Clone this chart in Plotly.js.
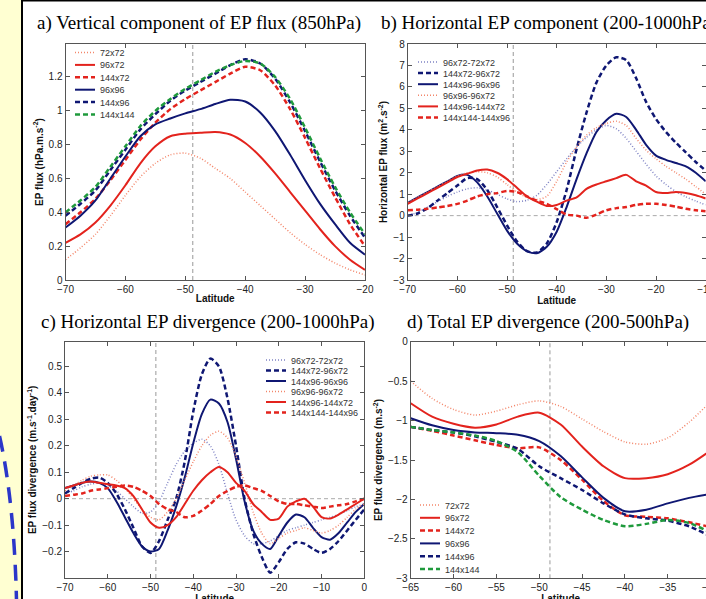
<!DOCTYPE html>
<html><head><meta charset="utf-8">
<script src="https://cdn.plot.ly/plotly-3.0.1.min.js"></script>
<style>html,body{margin:0;padding:0;overflow:hidden;background:#fff}</style>
</head><body><div id="chart" style="width:720px;height:625px"></div>
<script>
// ---------------- data ----------------
const REF_LAT = -48.75;

const LAT_A = [-70,-67.5,-65,-62.5,-60,-57.5,-55,-52.5,-50,-47.5,-45,-42.5,-40,-37.5,-35,-32.5,-30,-27.5,-25,-22.5,-20];
const A_72x72   = [0.12,0.19,0.27,0.38,0.50,0.61,0.69,0.74,0.75,0.72,0.66,0.60,0.52,0.44,0.36,0.28,0.21,0.15,0.10,0.06,0.03];
const A_96x72   = [0.22,0.27,0.34,0.44,0.56,0.69,0.79,0.85,0.865,0.87,0.875,0.86,0.81,0.73,0.63,0.52,0.41,0.30,0.20,0.12,0.06];
const A_144x72  = [0.33,0.40,0.48,0.59,0.71,0.83,0.93,1.01,1.07,1.12,1.17,1.22,1.26,1.24,1.15,1.01,0.84,0.66,0.49,0.33,0.20];
const A_96x96   = [0.31,0.38,0.47,0.60,0.73,0.85,0.92,0.955,0.985,1.01,1.04,1.065,1.055,0.99,0.88,0.74,0.59,0.45,0.33,0.22,0.15];
const A_144x96  = [0.38,0.45,0.53,0.65,0.77,0.89,0.98,1.06,1.12,1.17,1.22,1.27,1.305,1.28,1.19,1.05,0.88,0.70,0.53,0.38,0.25];
const A_144x144 = [0.40,0.47,0.55,0.67,0.79,0.91,1.00,1.07,1.13,1.18,1.23,1.27,1.295,1.28,1.20,1.07,0.90,0.72,0.55,0.40,0.27];

const LAT_B = [-70,-68,-66,-64,-62,-60,-58,-56,-54,-52,-50,-48,-46,-44,-42,-40,-38,-36,-34,-32,-30,-28,-26,-24,-22,-20,-18,-16,-14,-12,-10];
const B_96x72_72x72    = [0.0,0.15,0.4,0.65,0.9,1.1,1.25,1.3,1.2,1.0,0.78,0.65,0.72,0.95,1.45,2.05,2.65,3.2,3.65,4.0,4.2,4.05,3.6,3.0,2.4,1.85,1.45,1.12,0.88,0.68,0.5];
const B_144x72_96x72   = [0.0,0.1,0.35,0.7,1.05,1.4,1.75,1.7,1.2,0.4,-0.45,-1.2,-1.65,-1.72,-1.3,-0.3,1.2,3.1,4.8,6.2,7.0,7.38,7.25,6.4,5.3,4.5,3.9,3.4,2.95,2.5,2.1];
const B_144x96_96x96   = [0.6,0.85,1.1,1.35,1.6,1.85,1.9,1.55,0.9,0.1,-0.7,-1.3,-1.65,-1.75,-1.45,-0.75,0.4,1.7,2.9,3.9,4.45,4.75,4.6,4.0,3.3,2.8,2.6,2.45,2.3,2.0,1.6];
const B_96x96_96x72    = [0.6,0.85,1.1,1.35,1.6,1.85,2.0,2.05,2.0,1.8,1.45,1.1,0.85,0.75,0.9,1.6,2.5,3.2,3.75,4.1,4.3,4.4,4.2,3.6,3.05,2.65,2.3,2.0,1.7,1.35,1.0];
const B_144x96_144x72  = [0.55,0.8,1.05,1.3,1.55,1.8,1.95,2.1,2.15,2.0,1.7,1.3,0.9,0.65,0.45,0.5,0.7,0.85,1.25,1.45,1.6,1.75,1.9,1.6,1.4,1.1,1.05,1.1,1.05,0.95,0.8];
const B_144x144_144x96 = [0.25,0.28,0.32,0.38,0.45,0.55,0.7,0.9,1.0,1.05,1.15,1.1,0.9,0.7,0.55,0.3,0.05,0.0,-0.1,0.05,0.25,0.35,0.4,0.5,0.55,0.55,0.5,0.42,0.32,0.25,0.2];

const LAT_C = [-70,-68,-66,-64,-62,-60,-58,-56,-54,-52,-50,-48,-46,-44,-42,-40,-38,-36,-34,-32,-30,-28,-26,-24,-22,-20,-18,-16,-14,-12,-10,-8,-6,-4,-2,0];
const C_96x72_72x72    = [0.02,0.03,0.045,0.055,0.06,0.05,0.03,0.0,-0.03,-0.055,-0.05,-0.01,0.06,0.13,0.18,0.21,0.225,0.2,0.13,0.02,-0.08,-0.14,-0.17,-0.17,-0.16,-0.14,-0.12,-0.11,-0.1,-0.09,-0.08,-0.07,-0.06,-0.045,-0.03,-0.02];
const C_144x72_96x72   = [0.02,0.04,0.06,0.075,0.08,0.06,0.02,-0.04,-0.11,-0.18,-0.205,-0.16,-0.08,0.0,0.14,0.33,0.47,0.53,0.5,0.38,0.2,0.0,-0.13,-0.22,-0.28,-0.24,-0.19,-0.165,-0.17,-0.19,-0.205,-0.19,-0.16,-0.12,-0.08,-0.04];
const C_144x96_96x96   = [0.04,0.05,0.06,0.065,0.06,0.04,-0.01,-0.07,-0.13,-0.18,-0.2,-0.19,-0.12,-0.03,0.08,0.21,0.32,0.375,0.36,0.29,0.15,-0.01,-0.12,-0.17,-0.19,-0.14,-0.09,-0.06,-0.07,-0.11,-0.145,-0.155,-0.13,-0.09,-0.05,-0.02];
const C_96x96_96x72    = [0.03,0.05,0.07,0.085,0.09,0.09,0.07,0.04,0.0,-0.04,-0.07,-0.08,-0.05,0.0,0.07,0.14,0.2,0.24,0.255,0.23,0.16,0.06,-0.05,-0.13,-0.17,-0.15,-0.13,-0.12,-0.11,-0.12,-0.13,-0.12,-0.1,-0.07,-0.04,-0.02];
const C_144x96_144x72  = [0.04,0.05,0.06,0.065,0.06,0.055,0.05,0.04,0.01,-0.04,-0.09,-0.11,-0.1,-0.07,-0.02,0.03,0.07,0.1,0.12,0.1,0.06,0.03,-0.02,-0.05,-0.08,-0.075,-0.03,-0.01,0.0,-0.03,-0.07,-0.075,-0.06,-0.04,-0.02,0.0];
const C_144x144_144x96 = [0.01,0.015,0.02,0.03,0.035,0.04,0.045,0.05,0.045,0.03,0.01,-0.02,-0.04,-0.05,-0.07,-0.065,-0.045,-0.02,0.01,0.03,0.045,0.05,0.04,0.03,0.01,-0.01,-0.02,-0.02,-0.025,-0.03,-0.035,-0.03,-0.025,-0.02,-0.01,0.0];

const LAT_D = [-65,-62.5,-60,-57.5,-55,-52.5,-50,-47.5,-45,-42.5,-40,-37.5,-35,-32.5,-30];
const D_72x72   = [-0.50,-0.72,-0.86,-0.93,-0.88,-0.80,-0.75,-0.82,-0.98,-1.14,-1.27,-1.30,-1.22,-1.02,-0.76];
const D_96x72   = [-0.78,-0.95,-1.04,-1.09,-1.05,-0.95,-0.90,-1.05,-1.33,-1.58,-1.73,-1.73,-1.68,-1.56,-1.38];
const D_144x72  = [-1.08,-1.13,-1.19,-1.25,-1.31,-1.35,-1.34,-1.50,-1.75,-2.02,-2.20,-2.22,-2.24,-2.29,-2.35];
const D_96x96   = [-0.97,-1.06,-1.12,-1.15,-1.16,-1.18,-1.26,-1.45,-1.72,-1.98,-2.15,-2.13,-2.05,-1.98,-1.93];
const D_144x96  = [-1.08,-1.12,-1.15,-1.20,-1.27,-1.36,-1.58,-1.73,-1.88,-2.05,-2.19,-2.24,-2.27,-2.34,-2.47];
const D_144x144 = [-1.08,-1.12,-1.15,-1.19,-1.26,-1.40,-1.70,-1.97,-2.13,-2.26,-2.34,-2.31,-2.26,-2.30,-2.42];

const NAMES_RES  = ['72x72','96x72','144x72','96x96','144x96','144x144'];
const NAMES_DIFF = ['96x72-72x72','144x72-96x72','144x96-96x96','96x96-96x72','144x96-144x72','144x144-144x96'];

const TICKS_A_X = [-70,-60,-50,-40,-30,-20];
const TICKS_A_Y = [0,0.2,0.4,0.6,0.8,1,1.2];
const TICKS_B_X = [-70,-60,-50,-40,-30,-20,-10];
const TICKS_B_Y = [-3,-2,-1,0,1,2,3,4,5,6,7,8];
const TICKS_C_X = [-70,-60,-50,-40,-30,-20,-10,0];
const TICKS_C_Y = [-0.2,-0.1,0,0.1,0.2,0.3,0.4,0.5];
const TICKS_D_X = [-65,-60,-55,-50,-45,-40,-35,-30];
const TICKS_D_Y = [-3,-2.5,-2,-1.5,-1,-0.5,0];

// ---------------- styles ----------------
const RED = '#e3231d', NAVY = '#0f1773', GREEN = '#1f9a3c', SALMON = '#f3866a', GREYBLUE = '#7f83c4';
const DASH = '5px,3px', DOT = '1px,2px';
const ST = {
  dotSalmon: {color: SALMON, width: 1.5, dash: DOT},
  solidRed: {color: RED, width: 2},
  dashRed: {color: RED, width: 2.5, dash: DASH},
  solidNavy: {color: NAVY, width: 2},
  dashNavy: {color: NAVY, width: 2.5, dash: DASH},
  dashGreen: {color: GREEN, width: 2.5, dash: DASH},
  dotGrey: {color: GREYBLUE, width: 1.5, dash: DOT}
};
function tr(x, y, name, st, n, leg) {
  return {type: 'scatter', mode: 'lines', x: x, y: y, name: name,
    line: Object.assign({shape: 'spline', smoothing: 0.7}, st),
    xaxis: 'x' + (n === 1 ? '' : n), yaxis: 'y' + (n === 1 ? '' : n), legend: leg};
}
const traces = [
  tr(LAT_A, A_72x72, NAMES_RES[0], ST.dotSalmon, 1, 'legend'),
  tr(LAT_A, A_96x72, NAMES_RES[1], ST.solidRed, 1, 'legend'),
  tr(LAT_A, A_144x72, NAMES_RES[2], ST.dashRed, 1, 'legend'),
  tr(LAT_A, A_96x96, NAMES_RES[3], ST.solidNavy, 1, 'legend'),
  tr(LAT_A, A_144x96, NAMES_RES[4], ST.dashNavy, 1, 'legend'),
  tr(LAT_A, A_144x144, NAMES_RES[5], ST.dashGreen, 1, 'legend'),

  tr(LAT_B, B_96x72_72x72, NAMES_DIFF[0], ST.dotGrey, 2, 'legend2'),
  tr(LAT_B, B_144x72_96x72, NAMES_DIFF[1], ST.dashNavy, 2, 'legend2'),
  tr(LAT_B, B_144x96_96x96, NAMES_DIFF[2], ST.solidNavy, 2, 'legend2'),
  tr(LAT_B, B_96x96_96x72, NAMES_DIFF[3], ST.dotSalmon, 2, 'legend2'),
  tr(LAT_B, B_144x96_144x72, NAMES_DIFF[4], ST.solidRed, 2, 'legend2'),
  tr(LAT_B, B_144x144_144x96, NAMES_DIFF[5], ST.dashRed, 2, 'legend2'),

  tr(LAT_C, C_96x72_72x72, NAMES_DIFF[0], ST.dotGrey, 3, 'legend3'),
  tr(LAT_C, C_144x72_96x72, NAMES_DIFF[1], ST.dashNavy, 3, 'legend3'),
  tr(LAT_C, C_144x96_96x96, NAMES_DIFF[2], ST.solidNavy, 3, 'legend3'),
  tr(LAT_C, C_96x96_96x72, NAMES_DIFF[3], ST.dotSalmon, 3, 'legend3'),
  tr(LAT_C, C_144x96_144x72, NAMES_DIFF[4], ST.solidRed, 3, 'legend3'),
  tr(LAT_C, C_144x144_144x96, NAMES_DIFF[5], ST.dashRed, 3, 'legend3'),

  tr(LAT_D, D_72x72, NAMES_RES[0], ST.dotSalmon, 4, 'legend4'),
  tr(LAT_D, D_96x72, NAMES_RES[1], ST.solidRed, 4, 'legend4'),
  tr(LAT_D, D_144x72, NAMES_RES[2], ST.dashRed, 4, 'legend4'),
  tr(LAT_D, D_96x96, NAMES_RES[3], ST.solidNavy, 4, 'legend4'),
  tr(LAT_D, D_144x96, NAMES_RES[4], ST.dashNavy, 4, 'legend4'),
  tr(LAT_D, D_144x144, NAMES_RES[5], ST.dashGreen, 4, 'legend4')
];

// ---------------- layout ----------------
// The drawing surface is a little larger than the 706x599 window, so that, as in the
// reference, the right-hand panels and the lowest axis titles run past its edges.
const W = 720, H = 625;
const fx = p => p / W, fy = p => 1 - p / H;
const FONT = 'Liberation Sans, Arial, sans-serif';
function xax(d0, d1, range, ticks, anchor) {
  return {domain: [fx(d0), fx(d1)], range: range, tickmode: 'array', tickvals: ticks, anchor: anchor,
    showline: true, mirror: 'ticks', ticks: 'inside', ticklen: 4, tickwidth: 1, tickcolor: '#555',
    linecolor: '#555', linewidth: 1, showgrid: false, zeroline: false, automargin: false,
    tickfont: {family: FONT, size: 10, color: '#222'},
    title: {text: '<b>Latitude</b>', font: {family: FONT, size: 10, color: '#111'}, standoff: 0}};
}
function yax(top, bot, range, ticks, anchor, title) {
  return {domain: [fy(bot), fy(top)], range: range, tickmode: 'array', tickvals: ticks, anchor: anchor,
    showline: true, mirror: 'ticks', ticks: 'inside', ticklen: 4, tickwidth: 1, tickcolor: '#555',
    linecolor: '#555', linewidth: 1, showgrid: false, zeroline: false, automargin: false,
    tickfont: {family: FONT, size: 10, color: '#222'},
    title: {text: '<b>' + title + '</b>', font: {family: FONT, size: 10, color: '#111'}, standoff: 3}};
}
function leg(x, top) {
  return {x: fx(x), y: fy(top), xanchor: 'left', yanchor: 'top', bgcolor: 'rgba(0,0,0,0)',
    borderwidth: 0, font: {family: FONT, size: 9, color: '#333'}, itemwidth: 30, tracegroupgap: 0};
}
function ttl(text, x, y) {
  return {text: text, xref: 'paper', yref: 'paper', x: fx(x), y: fy(y), xanchor: 'left', yanchor: 'middle',
    showarrow: false, font: {family: 'Liberation Serif, Times New Roman, serif', size: 19, color: '#000'}};
}
const vline = (n) => ({type: 'line', xref: 'x' + (n === 1 ? '' : n), yref: 'y' + (n === 1 ? '' : n) + ' domain',
  x0: REF_LAT, x1: REF_LAT, y0: 0, y1: 1, layer: 'below', line: {color: '#999', width: 1, dash: '4px,3px'}});
const hzero = (n) => ({type: 'line', xref: 'x' + n + ' domain', yref: 'y' + n,
  x0: 0, x1: 1, y0: 0, y1: 0, layer: 'below', line: {color: '#aaa', width: 1, dash: '4px,3px'}});

// legend placement (px): x of legend box, top of legend box, centre of first entry, entry spacing
const LEG_POS = {legend:  {x: 60,  top: 42,  first: 52.5, sp: 12.4},
                 legend2: {x: 403, top: 52,  first: 62,   sp: 11.1},
                 legend3: {x: 251, top: 350, first: 360,  sp: 10.5},
                 legend4: {x: 405, top: 462, first: 505,  sp: 12.8}};

const layout = {
  width: W, height: H, margin: {l: 0, r: 0, t: 0, b: 0, autoexpand: false},
  paper_bgcolor: '#fff', plot_bgcolor: '#fff', showlegend: true,
  xaxis: xax(65.5, 365, [-70, -20], TICKS_A_X, 'y'),
  yaxis: yax(44, 280, [0, 1.395], TICKS_A_Y, 'x', 'EP flux (hPa.m.s<sup>-2</sup>)'),
  xaxis2: xax(407.7, 705.7, [-70, -10], TICKS_B_X, 'y2'),
  yaxis2: yax(44, 280, [-3, 8], TICKS_B_Y, 'x2', 'Horizontal EP flux (m<sup>2</sup>.s<sup>-2</sup>)'),
  xaxis3: xax(65, 364.3, [-70, 0], TICKS_C_X, 'y3'),
  yaxis3: yax(341.7, 578, [-0.30, 0.594], TICKS_C_Y, 'x3', 'EP flux divergence (m.s<sup>-1</sup>.day<sup>-1</sup>)'),
  xaxis4: xax(410.7, 710.6, [-65, -30], TICKS_D_X, 'y4'),
  yaxis4: yax(341.7, 578.3, [-3, 0], TICKS_D_Y, 'x4', 'EP flux divergence (m.s<sup>-2</sup>)'),
  legend: leg(LEG_POS.legend.x, LEG_POS.legend.top),
  legend2: leg(LEG_POS.legend2.x, LEG_POS.legend2.top),
  legend3: leg(LEG_POS.legend3.x, LEG_POS.legend3.top),
  legend4: leg(LEG_POS.legend4.x, LEG_POS.legend4.top),
  annotations: [
    ttl('a) Vertical component of EP flux (850hPa)', 35, 23),
    ttl('b) Horizontal EP component (200-1000hPa)', 379, 23),
    ttl('c) Horizontal EP divergence (200-1000hPa)', 39, 322),
    ttl('d) Total EP divergence (200-500hPa)', 405, 322)
  ],
  shapes: [
    // slide background strip, frame lines and decoration
    {type: 'rect', xref: 'paper', yref: 'paper', x0: 0, x1: fx(21), y0: 0, y1: 1, fillcolor: '#ffffd2', line: {width: 0}, layer: 'below'},
    {type: 'line', xref: 'paper', yref: 'paper', x0: fx(22), x1: fx(22), y0: 0, y1: 1, line: {color: '#000', width: 2}},
    {type: 'line', xref: 'paper', yref: 'paper', x0: fx(21), x1: 1, y0: fy(0.5), y1: fy(0.5), line: {color: '#000', width: 2}},
    {type: 'path', xref: 'paper', yref: 'paper',
      path: 'M ' + fx(-0.5) + ',' + fy(436) + ' Q ' + fx(14) + ',' + fy(500) + ' ' + fx(16.5) + ',' + fy(600),
      line: {color: '#2b36c9', width: 3.5, dash: '16px,10px'}},
    vline(1), vline(2), vline(3), vline(4), hzero(2), hzero(3)
  ]
};

Plotly.newPlot('chart', traces, layout, {staticPlot: true, displayModeBar: false}).then(function (gd) {
  const re = /translate\(\s*([-\d.e]+)[ ,]+([-\d.e]+)\s*\)/;
  Object.keys(LEG_POS).forEach(function (id) {
    const g = gd.querySelector('g.' + id);
    if (!g) return;
    const m = re.exec(g.getAttribute('transform') || '');
    const ly = m ? parseFloat(m[2]) : 0;
    const items = g.querySelectorAll('g.traces');
    items.forEach(function (it, i) {
      const mm = re.exec(it.getAttribute('transform') || '');
      const ix = mm ? parseFloat(mm[1]) : 0;
      it.setAttribute('transform', 'translate(' + ix + ',' + (LEG_POS[id].first - ly + i * LEG_POS[id].sp) + ')');
    });
    g.querySelectorAll('path.js-line').forEach(function (p) { p.setAttribute('d', 'M15,0h20'); });
  });
});
</script>
</body></html>
